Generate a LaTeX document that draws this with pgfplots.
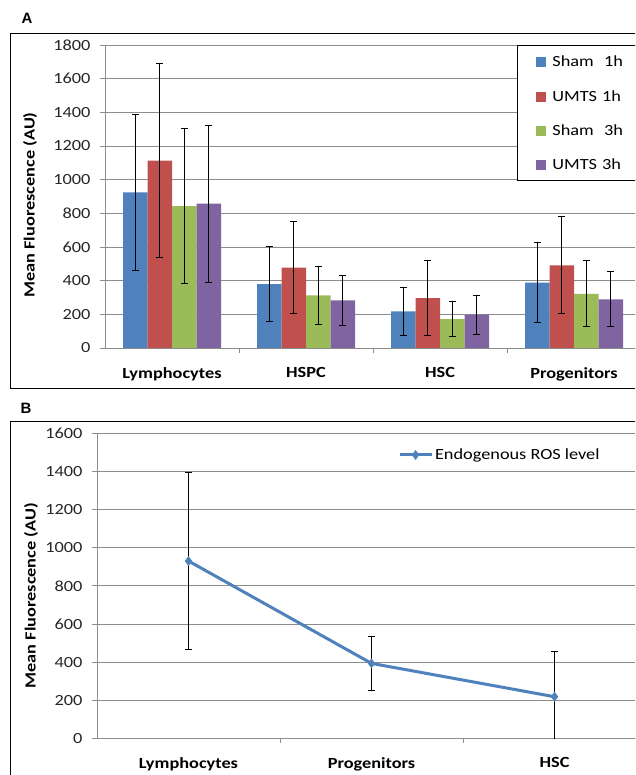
\documentclass[border=0pt]{standalone}
\usepackage{pgfplots}
\pgfplotsset{compat=1.18}
\usepackage{fontspec}
\setmainfont{Carlito}[FakeStretch=1.18]
\newfontfamily\panelfont{Liberation Sans}
\definecolor{cBlue}{HTML}{4F81BD}
\definecolor{cRed}{HTML}{C0504D}
\definecolor{cGreen}{HTML}{9BBB59}
\definecolor{cPurple}{HTML}{8064A2}
\definecolor{cGrid}{HTML}{8C8C8C}

\pgfplotstableread{
x y e
0 925 465
1 380 220
2 217 140
3 389 239
}\shamA
\pgfplotstableread{
x y e
0 1113 575
1 477 273
2 296 221
3 491 289
}\umtsA
\pgfplotstableread{
x y e
0 843 460
1 312 171
2 172 105
3 321 196
}\shamC
\pgfplotstableread{
x y e
0 857 465
1 283 150
2 198 115
3 289 164
}\umtsC
\pgfplotstableread{
x y e
0 930 465
1 393 140
2 218 236
}\ros

\pgfplotsset{
  panel/.style={
    scale only axis,
    font=\fontsize{15.5}{18}\selectfont,
    axis x line*=bottom, axis y line*=left,
    axis line style={draw=cGrid,-},
    ymajorgrids,
    major grid style={draw=cGrid, line width=0.8pt},
    tick align=outside, major tick length=5pt,
    ytick style={draw=cGrid, line width=0.8pt},
    xtick=data,
    xtick style={draw=none},
    extra x tick style={xtick style={draw=cGrid, line width=0.8pt}, grid=none},
    extra x tick labels={},
    xticklabel style={font=\fontsize{15.5}{18}\selectfont\bfseries, yshift=-11pt},
    yticklabel style={xshift=-6pt, text=black!85},
    /pgf/number format/assume math mode=true,
    /pgf/number format/1000 sep={},
    ylabel={\bfseries Mean Fluorescence (AU)},
  },
  errs/.style={error bars/.cd, y dir=both, y explicit,
    error bar style={black, line width=1pt},
    error mark options={black, line width=1pt, mark size=3.5pt, rotate=90}},
}

\begin{document}
\begin{tikzpicture}[x=1pt,y=1pt]
\path[use as bounding box] (0pt,0pt) rectangle (635pt,775pt);
\begin{scope}
\clip (0pt,0pt) rectangle (635pt,775pt);
\fill[white] (0pt,0pt) rectangle (635pt,775pt);
\draw[black, line width=0.8pt] (10pt,742pt) rectangle (660pt,387pt);
\draw[black, line width=0.8pt] (10pt,353.3pt) rectangle (660pt,-20pt);
\node[font=\panelfont\bfseries\fontsize{15}{17}\selectfont] at (27pt,757pt) {A};
\node[font=\panelfont\bfseries\fontsize{15}{17}\selectfont] at (26pt,367pt) {B};

\begin{axis}[panel,
  at={(105pt,427pt)}, anchor=south west,
  width=536pt, height=303pt,
  xmin=-0.5, xmax=3.5, ymin=0, ymax=1800,
  ytick={0,200,...,1800},
  extra x ticks={0.5,1.5,2.5},
  xticklabels={Lymphocytes,HSPC,HSC,Progenitors},
  ylabel style={at={(axis description cs:-0.14,0.472)}, anchor=center},
  ybar=0pt, bar width=24.5pt,
  legend image code/.code={\fill[#1] (0pt,-5pt) rectangle (10pt,5pt);},
  legend style={at={(axis description cs:0.769,1)}, anchor=north west,
    draw=none, fill=white, inner xsep=19pt, inner ysep=9pt,
    row sep=18pt, font=\fontsize{15.5}{18}\selectfont, legend cell align=left,
    /tikz/every odd column/.append style={column sep=4pt},
    /tikz/every even column/.append style={text width=100pt}},
]
\addplot[fill=cBlue, draw=none, errs] table[x=x,y=y,y error=e] {\shamA};
\addplot[fill=cRed, draw=none, errs] table[x=x,y=y,y error=e] {\umtsA};
\addplot[fill=cGreen, draw=none, errs] table[x=x,y=y,y error=e] {\shamC};
\addplot[fill=cPurple, draw=none, errs] table[x=x,y=y,y error=e] {\umtsC};
\legend{Sham\ \ 1h,UMTS 1h,Sham\ \ 3h,UMTS 3h}
\end{axis}
\draw[black, line width=0.8pt] (517pt,730pt) rectangle (700pt,595pt);

\begin{axis}[panel,
  at={(97pt,36.7pt)}, anchor=south west,
  width=549pt, height=305pt,
  xmin=-0.5, xmax=2.5, ymin=0, ymax=1600,
  ytick={0,200,...,1600},
  extra x ticks={0.5,1.5},
  xticklabels={Lymphocytes,Progenitors,HSC},
  ylabel style={at={(axis description cs:-0.12,0.467)}, anchor=center},
  legend image code/.code={\draw[#1, mark repeat=2, mark phase=2] plot coordinates {(0pt,0pt) (16pt,0pt) (32pt,0pt)};},
  legend style={at={(axis description cs:0.548,0.929)}, anchor=west,
    draw=none, fill=none, inner sep=0pt, font=\fontsize{15.5}{18}\selectfont},
]
\addplot[color=cBlue, line width=3pt, mark=diamond*, mark size=4.5pt,
  mark options={line width=0.5pt, fill=cBlue},
  errs] table[x=x,y=y,y error=e] {\ros};
\legend{Endogenous ROS level}
\end{axis}
\end{scope}
\end{tikzpicture}
\end{document}
